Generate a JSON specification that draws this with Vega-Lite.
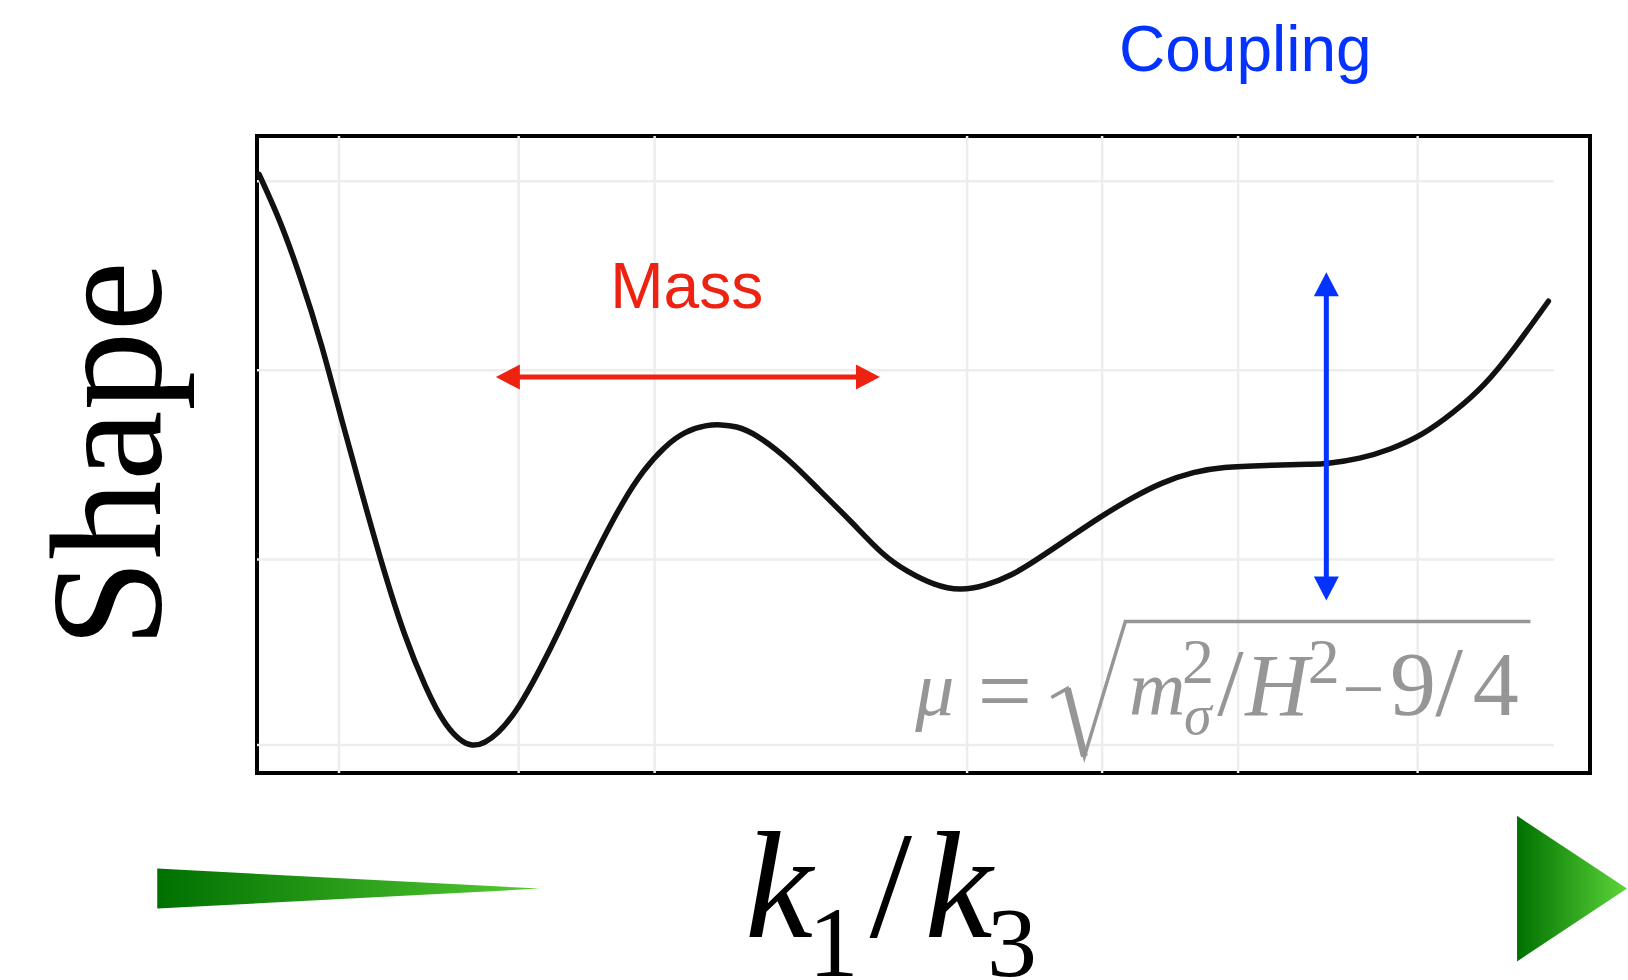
{
  "$schema": "https://vega.github.io/schema/vega-lite/v6.json",
  "width": 1333,
  "height": 637,
  "autosize": "none",
  "padding": {"left": 257, "top": 136, "right": 38, "bottom": 207},
  "background": "white",
  "config": {"view": {"stroke": "black", "strokeWidth": 4}},
  "encoding": {
    "x": {"field": "x", "type": "quantitative", "scale": {"domain": [0, 100], "nice": false, "zero": false}, "axis": null},
    "y": {"field": "y", "type": "quantitative", "scale": {"domain": [0, 100], "nice": false, "zero": false}, "axis": null}
  },
  "layer": [
    {
      "data": {"values": [
        {"x": 6.15, "y": 0, "y2": 100}, {"x": 19.63, "y": 0, "y2": 100}, {"x": 29.83, "y": 0, "y2": 100},
        {"x": 53.27, "y": 0, "y2": 100}, {"x": 63.4, "y": 0, "y2": 100}, {"x": 73.6, "y": 0, "y2": 100},
        {"x": 87.07, "y": 0, "y2": 100}
      ]},
      "mark": {"type": "rule", "color": "#ededed", "strokeWidth": 2.5},
      "encoding": {"y2": {"field": "y2"}}
    },
    {
      "data": {"values": [
        {"x": 0, "x2": 97.3, "y": 92.9}, {"x": 0, "x2": 97.3, "y": 63.21},
        {"x": 0, "x2": 97.3, "y": 33.52}, {"x": 0, "x2": 97.3, "y": 4.4}
      ]},
      "mark": {"type": "rule", "color": "#ededed", "strokeWidth": 2.5},
      "encoding": {"x2": {"field": "x2"}}
    },
    {
      "data": {"values": [
        {"x": 0.16, "y": 93.96}, {"x": 1.71, "y": 86.6}, {"x": 3.27, "y": 77.65}, {"x": 4.83, "y": 67.2},
        {"x": 6.39, "y": 55.2}, {"x": 7.94, "y": 43.4}, {"x": 9.5, "y": 32.0}, {"x": 11.06, "y": 21.86},
        {"x": 12.62, "y": 13.7}, {"x": 14.17, "y": 7.67}, {"x": 16.12, "y": 4.4}, {"x": 18.07, "y": 6.36},
        {"x": 19.63, "y": 10.44}, {"x": 21.18, "y": 16.15}, {"x": 22.74, "y": 22.68}, {"x": 24.3, "y": 29.69},
        {"x": 25.86, "y": 36.3}, {"x": 27.41, "y": 42.3}, {"x": 28.97, "y": 47.3}, {"x": 30.53, "y": 51.0},
        {"x": 32.09, "y": 53.4}, {"x": 33.64, "y": 54.49}, {"x": 34.81, "y": 54.65}, {"x": 35.98, "y": 54.32},
        {"x": 37.54, "y": 52.85}, {"x": 39.88, "y": 49.1}, {"x": 42.21, "y": 44.37}, {"x": 44.55, "y": 39.48},
        {"x": 46.88, "y": 34.58}, {"x": 48.83, "y": 31.65}, {"x": 50.78, "y": 29.69}, {"x": 52.73, "y": 28.87},
        {"x": 54.67, "y": 29.53}, {"x": 56.62, "y": 31.16}, {"x": 58.57, "y": 33.61}, {"x": 60.9, "y": 36.87},
        {"x": 63.24, "y": 40.13}, {"x": 65.58, "y": 43.07}, {"x": 67.91, "y": 45.51}, {"x": 70.25, "y": 47.15},
        {"x": 72.59, "y": 47.96}, {"x": 75.7, "y": 48.29}, {"x": 78.82, "y": 48.45}, {"x": 80.37, "y": 48.61},
        {"x": 82.71, "y": 49.43}, {"x": 85.05, "y": 50.9}, {"x": 87.38, "y": 53.18}, {"x": 89.72, "y": 56.6},
        {"x": 92.06, "y": 61.0}, {"x": 94.39, "y": 66.9}, {"x": 96.88, "y": 74.06}
      ]},
      "mark": {"type": "line", "color": "#111111", "strokeWidth": 5.5, "interpolate": "natural", "strokeCap": "round"}
    },
    {
      "data": {"values": [{"x": 18.82, "x2": 45.83, "y": 62.15}]},
      "mark": {"type": "rule", "color": "#ee2211", "strokeWidth": 5},
      "encoding": {"x2": {"field": "x2"}}
    },
    {
      "data": {"values": [{"x": 18.82, "y": 62.15}]},
      "mark": {"type": "point", "filled": true, "shape": "M-1,0 L1,-1.04 L1,1.04 Z", "size": 576, "color": "#ee2211", "opacity": 1, "strokeWidth": 0}
    },
    {
      "data": {"values": [{"x": 45.83, "y": 62.15}]},
      "mark": {"type": "point", "filled": true, "shape": "M1,0 L-1,-1.04 L-1,1.04 Z", "size": 576, "color": "#ee2211", "opacity": 1, "strokeWidth": 0}
    },
    {
      "data": {"values": [{"x": 80.22, "y": 28.97, "y2": 76.74}]},
      "mark": {"type": "rule", "color": "#0432ff", "strokeWidth": 5},
      "encoding": {"y2": {"field": "y2"}}
    },
    {
      "data": {"values": [{"x": 80.22, "y": 76.74}]},
      "mark": {"type": "point", "filled": true, "shape": "M0,-1 L1.04,1 L-1.04,1 Z", "size": 576, "color": "#0432ff", "opacity": 1, "strokeWidth": 0}
    },
    {
      "data": {"values": [{"x": 80.22, "y": 28.97}]},
      "mark": {"type": "point", "filled": true, "shape": "M0,1 L1.04,-1 L-1.04,-1 Z", "size": 576, "color": "#0432ff", "opacity": 1, "strokeWidth": 0}
    },
    {
      "data": {"values": [
        {"x": 32.24, "y": 72.92, "t": "Mass", "c": "#ee2211"},
        {"x": 74.14, "y": 110.28, "t": "Coupling", "c": "#0432ff"}
      ]},
      "mark": {"type": "text", "font": "Liberation Sans", "fontSize": 64, "align": "center", "baseline": "alphabetic"},
      "encoding": {"text": {"field": "t"}, "color": {"field": "c", "type": "nominal", "scale": null}}
    },
    {
      "data": {"values": [{"x": -7.3, "y": 50.0, "t": "Shape"}]},
      "mark": {"type": "text", "font": "Liberation Serif", "fontSize": 158, "angle": 270, "align": "center", "baseline": "alphabetic", "color": "black"},
      "encoding": {"text": {"field": "t"}}
    },
    {
      "data": {"values": [
        {"x": 59.59, "y": 11.86}, {"x": 60.79, "y": 13.28}, {"x": 62.07, "y": 2.6},
        {"x": 65.14, "y": 23.8}, {"x": 95.53, "y": 23.8}
      ]},
      "mark": {"type": "line", "color": "#969696", "strokeWidth": 3.5, "strokeJoin": "miter"}
    },
    {
      "data": {"values": [{"x": 60.79, "y": 13.28}, {"x": 62.07, "y": 2.6}]},
      "mark": {"type": "line", "color": "#969696", "strokeWidth": 7}
    },
    {
      "data": {"values": [
        {"x": 49.38, "y": 9.13, "t": "μ", "s": 78, "c": "#969696"},
        {"x": 65.42, "y": 9.13, "t": "m", "s": 78, "c": "#969696"},
        {"x": 69.55, "y": 6.2, "t": "σ", "s": 56, "c": "#969696"},
        {"x": 74.14, "y": 9.13, "t": "H", "s": 88, "c": "#969696"},
        {"x": 36.6, "y": -25.8, "t": "k", "s": 153, "c": "#000000"},
        {"x": 50.07, "y": -25.8, "t": "k", "s": 153, "c": "#000000"}
      ]},
      "mark": {"type": "text", "font": "Liberation Serif", "fontStyle": "italic", "align": "left", "baseline": "alphabetic"},
      "encoding": {"text": {"field": "t"}, "size": {"field": "s", "type": "quantitative", "scale": null}, "color": {"field": "c", "type": "nominal", "scale": null}}
    },
    {
      "data": {"values": [
        {"x": 54.05, "y": 7.8, "t": "=", "s": 97, "c": "#969696"},
        {"x": 69.39, "y": 14.2, "t": "2", "s": 64, "c": "#969696"},
        {"x": 72.04, "y": 9.13, "t": "/", "s": 95, "c": "#969696"},
        {"x": 78.82, "y": 14.2, "t": "2", "s": 64, "c": "#969696"},
        {"x": 81.39, "y": 9.2, "t": "−", "s": 75, "c": "#969696"},
        {"x": 85.0, "y": 9.13, "t": "9", "s": 92, "c": "#969696"},
        {"x": 88.4, "y": 9.13, "t": "/", "s": 100, "c": "#969696"},
        {"x": 91.2, "y": 9.13, "t": "4", "s": 92, "c": "#969696"},
        {"x": 41.37, "y": -31.8, "t": "1", "s": 100, "c": "#000000"},
        {"x": 45.94, "y": -25.8, "t": "/", "s": 153, "c": "#000000"},
        {"x": 54.76, "y": -31.8, "t": "3", "s": 100, "c": "#000000"}
      ]},
      "mark": {"type": "text", "font": "Liberation Serif", "align": "left", "baseline": "alphabetic"},
      "encoding": {"text": {"field": "t"}, "size": {"field": "s", "type": "quantitative", "scale": null}, "color": {"field": "c", "type": "nominal", "scale": null}}
    },
    {
      "data": {"values": [{"x": 6.86, "y": -18.15}]},
      "mark": {"type": "point", "filled": true, "shape": "M-1,-0.1046 L1,0 L-1,0.1046 Z", "size": 146230, "opacity": 1, "strokeWidth": 0,
        "fill": {"gradient": "linear", "x1": 0, "y1": 0, "x2": 1, "y2": 0, "stops": [{"offset": 0, "color": "#007000"}, {"offset": 1, "color": "#55cc33"}]}}
    },
    {
      "data": {"values": [{"x": 98.65, "y": -18.15}]},
      "mark": {"type": "point", "filled": true, "shape": "M-0.755,-1 L0.755,0 L-0.755,1 Z", "size": 21199, "opacity": 1, "strokeWidth": 0,
        "fill": {"gradient": "linear", "x1": 0, "y1": 0, "x2": 1, "y2": 0, "stops": [{"offset": 0, "color": "#007000"}, {"offset": 1, "color": "#5cd63a"}]}}
    }
  ]
}
